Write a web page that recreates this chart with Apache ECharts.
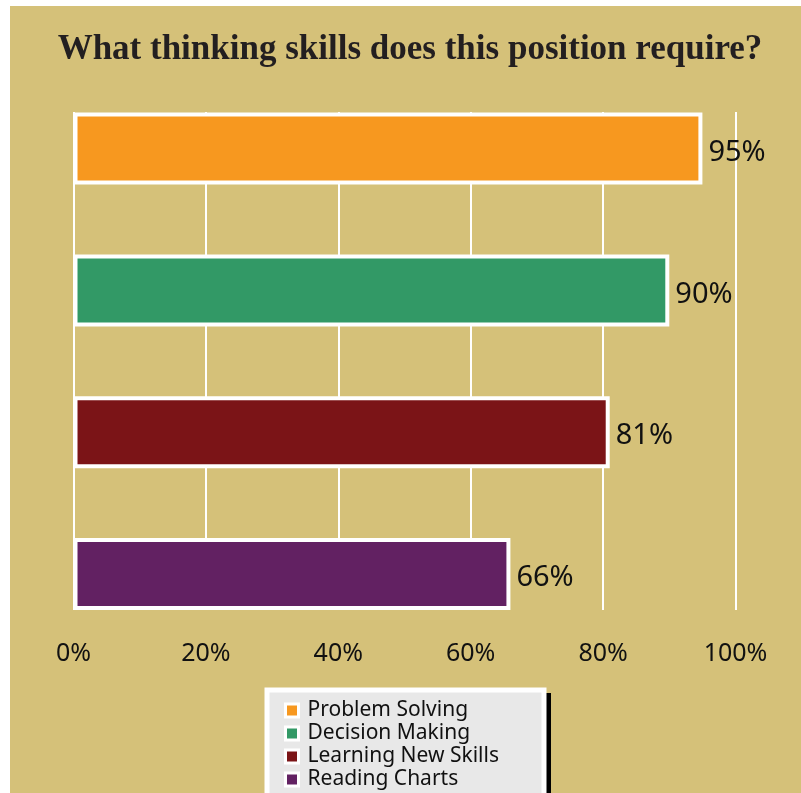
<!DOCTYPE html>
<html>
<head>
<meta charset="utf-8">
<script src="https://cdn.jsdelivr.net/npm/echarts@6/dist/echarts.min.js"></script>
<style>
  html, body { margin: 0; padding: 0; background: #ffffff; }
  #chart { width: 801px; height: 793px; }
</style>
</head>
<body>
<div id="chart"></div>
<script>
// Survey answers, top to bottom
const skills = ['Problem Solving', 'Decision Making', 'Learning New Skills', 'Reading Charts'];
const shares = [95, 90, 81, 66];
const skillColors = ['#F7981F', '#329966', '#7B1417', '#622162'];
const axisTicks = [0, 20, 40, 60, 80, 100];

const chart = echarts.init(document.getElementById('chart'));

// One series per skill so each gets its own legend entry; stacking keeps them in one slot.
const barSeries = skills.map((name, i) => ({
  name: name,
  type: 'bar',
  stack: 'skills',
  xAxisIndex: 0,
  yAxisIndex: 0,
  barWidth: 72,
  data: skills.map((_, j) => (j === i ? shares[i] : '-')),
  itemStyle: { color: skillColors[i], borderColor: '#ffffff', borderWidth: 4 },
  label: {
    show: true,
    position: 'right',
    distance: 6,
    offset: [0, 4],
    formatter: '{c}%',
    color: '#111111',
    fontFamily: 'Noto Sans',
    fontSize: 29
  },
  emphasis: { disabled: true }
}));

chart.setOption({
  backgroundColor: '#D5C179',
  animation: false,
  title: {
    text: 'What thinking skills does this position require?',
    left: 405,
    top: 27,
    textAlign: 'center',
    textStyle: {
      fontFamily: 'Liberation Serif',
      fontWeight: 'bold',
      fontSize: 35,
      color: '#231F20'
    }
  },
  graphic: [
    { type: 'rect', shape: { x: 0, y: 0, width: 10, height: 793 }, style: { fill: '#ffffff' }, z: 100 },
    { type: 'rect', shape: { x: 0, y: 0, width: 801, height: 6 }, style: { fill: '#ffffff' }, z: 100 },
    // legend panel: hard black drop shadow, then white-edged grey box
    { type: 'rect', shape: { x: 271, y: 693, width: 280, height: 130 }, style: { fill: '#000000' }, z: 1 },
    {
      type: 'rect',
      shape: { x: 267, y: 690, width: 277, height: 130 },
      style: { fill: '#E8E8E8', stroke: '#ffffff', lineWidth: 5 },
      z: 2
    }
  ],
  legend: {
    orient: 'vertical',
    left: 284,
    top: 700,
    height: 200,
    padding: 0,
    itemWidth: 13,
    itemHeight: 13,
    itemGap: 2,
    icon: 'rect',
    itemStyle: { borderColor: '#ffffff', borderWidth: 3 },
    textStyle: {
      fontFamily: 'Noto Sans',
      fontSize: 21,
      color: '#111111',
      padding: [0, 0, 0, 4]
    },
    selectedMode: false,
    data: skills,
    z: 5
  },
  grid: [
    { left: 73.5, right: 65.5, top: 77.6, bottom: 148 },
    { left: 73.5, right: 65.5, top: 112, bottom: 183 }
  ],
  xAxis: [
    { gridIndex: 0, type: 'value', min: 0, max: 100, show: false },
    {
      gridIndex: 1,
      type: 'value',
      min: axisTicks[0],
      max: axisTicks[axisTicks.length - 1],
      interval: axisTicks[1] - axisTicks[0],
      axisLine: { show: false },
      axisTick: { show: false },
      splitLine: { show: true, lineStyle: { color: '#ffffff', width: 2 } },
      axisLabel: {
        margin: 31,
        formatter: '{value}%',
        fontFamily: 'Noto Sans',
        fontSize: 25,
        color: '#111111'
      }
    }
  ],
  yAxis: [
    { gridIndex: 0, type: 'category', inverse: true, data: skills, show: false },
    { gridIndex: 1, type: 'value', show: false, splitLine: { show: false } }
  ],
  series: barSeries
});
</script>
</body>
</html>
